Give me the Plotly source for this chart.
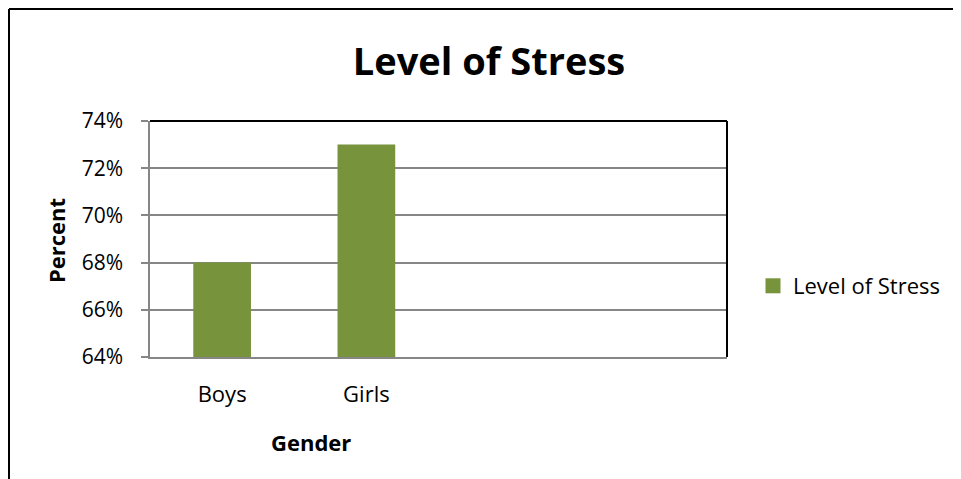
import plotly.graph_objects as go

categories = ["Boys", "Girls", " ", "  "]
values = [0.68, 0.73, None, None]
series_name = "Level of Stress"
y_ticks = [0.64, 0.66, 0.68, 0.70, 0.72, 0.74]

FONT = "Open Sans"
GREEN = "#77933C"
OFF = 8  # page body margin
W, H = 961 - OFF, 479 - OFF
L, R, T, B = 150 - OFF, 961 - 727, 121 - OFF, 479 - 357
pw, ph = W - L - R, H - T - B

def px(x):
    return (x - OFF - L) / pw

def py(y):
    return (H - B - (y - OFF)) / ph

fig = go.Figure()
fig.add_trace(go.Bar(
    x=categories, y=values, name=series_name,
    marker=dict(color=GREEN, line=dict(width=0)),
    showlegend=False,
))
# legend entry (square swatch)
fig.add_trace(go.Scatter(
    x=[None], y=[None], mode="markers", name=series_name,
    marker=dict(symbol="square", size=15, color=GREEN),
    showlegend=True, hoverinfo="skip",
))

fig.update_layout(
    width=W, height=H,
    margin=dict(l=L, r=R, t=T, b=B),
    paper_bgcolor="white", plot_bgcolor="white",
    bargap=0.6,
    font=dict(family=FONT, color="black", size=21),
    title=dict(text="<b>Level of Stress</b>", x=px(489), xref="paper", xanchor="center",
               y=1 - (62 - OFF) / H, yref="container", yanchor="middle",
               font=dict(family=FONT, size=38, color="black")),
    showlegend=True,
    legend=dict(x=px(753), y=py(286), xanchor="left", yanchor="middle",
                font=dict(family=FONT, size=22, color="black"),
                itemwidth=30, itemsizing="trace", bgcolor="rgba(0,0,0,0)"),
    xaxis=dict(type="category", showgrid=False, showline=True, linecolor="#868686",
               linewidth=1.5, ticks="", tickfont=dict(size=22), ticklabelstandoff=17,
               range=[-0.5, 3.5], fixedrange=True),
    yaxis=dict(range=[0.64, 0.74], tickvals=y_ticks, tickformat=".0%",
               showgrid=True, gridcolor="#868686", gridwidth=1.5,
               showline=True, linecolor="#868686", linewidth=1.5,
               ticks="outside", ticklen=7, tickcolor="#868686", tickwidth=1.5,
               tickfont=dict(size=21), ticklabelstandoff=14, zeroline=False),
    annotations=[
        dict(text="<b>Percent</b>", x=px(56), y=py(240), xref="paper", yref="paper",
             xanchor="center", yanchor="middle",
             textangle=-90, showarrow=False, font=dict(family=FONT, size=22)),
        dict(text="<b>Gender</b>", x=px(311), y=py(442), xref="paper", yref="paper",
             xanchor="center", yanchor="middle",
             showarrow=False, font=dict(family=FONT, size=22)),
    ],
    shapes=[
        dict(type="line", xref="paper", yref="paper", x0=0, x1=1, y0=1, y1=1,
             line=dict(color="black", width=2)),
        dict(type="line", xref="paper", yref="paper", x0=1, x1=1, y0=0, y1=1,
             line=dict(color="black", width=2)),
        dict(type="line", xref="paper", yref="paper", x0=px(9), x1=px(975),
             y0=py(9), y1=py(9), line=dict(color="black", width=2)),
        dict(type="line", xref="paper", yref="paper", x0=px(9), x1=px(9),
             y0=py(9), y1=py(495), line=dict(color="black", width=2)),
    ],
)

fig.write_html("out.html")
